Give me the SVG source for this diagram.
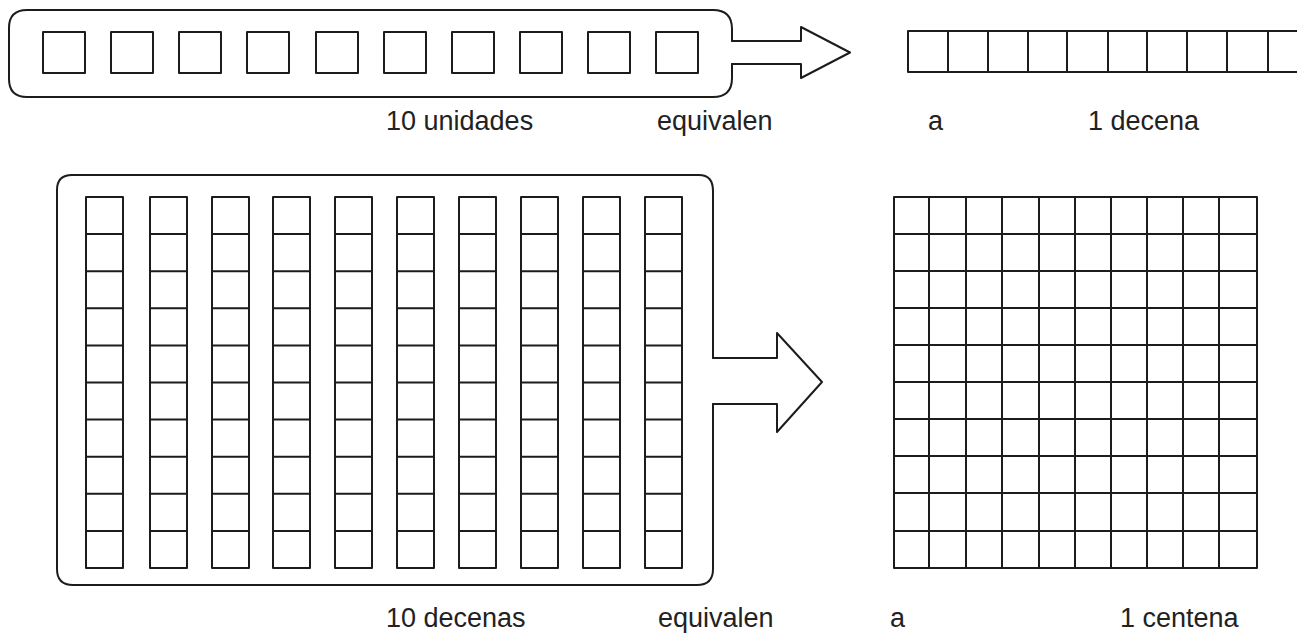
<svg xmlns="http://www.w3.org/2000/svg" xmlns:xlink="http://www.w3.org/1999/xlink" width="1297" height="635" viewBox="0 0 1297 635">
<style>
.ln{fill:none;stroke:#1c1c1c;stroke-width:2;stroke-linejoin:round;stroke-linecap:round}
.tx{font-family:"Liberation Sans",Arial,sans-serif;font-size:27px;fill:#222}
</style>
<defs>
<rect id="unit" class="ln" x="0" y="0" width="42" height="41"/>
<g id="col">
<rect class="ln" x="0" y="0" width="37" height="371"/>
<path class="ln" d="M0,37.1H37M0,74.2H37M0,111.3H37M0,148.4H37M0,185.5H37M0,222.6H37M0,259.7H37M0,296.8H37M0,333.9H37"/>
</g>
</defs>
<rect width="1297" height="635" fill="#fff"/>

<g id="units-group">
<path class="ln" d="M732,41 L732,29 Q732,10 713,10 L27,10 Q9,10 9,28 L9,79 Q9,97 27,97 L713,97 Q732,97 732,78 L732,64"/>
<use xlink:href="#unit" x="43" y="32"/>
<use xlink:href="#unit" x="111" y="32"/>
<use xlink:href="#unit" x="179" y="32"/>
<use xlink:href="#unit" x="247" y="32"/>
<use xlink:href="#unit" x="316" y="32"/>
<use xlink:href="#unit" x="384" y="32"/>
<use xlink:href="#unit" x="452" y="32"/>
<use xlink:href="#unit" x="520" y="32"/>
<use xlink:href="#unit" x="588" y="32"/>
<use xlink:href="#unit" x="656" y="32"/>
</g>

<g id="decena">
<rect class="ln" x="908" y="31" width="400" height="41"/>
<path class="ln" d="M948,31V72M988,31V72M1028,31V72M1067,31V72M1108,31V72M1147,31V72M1187,31V72M1227,31V72M1268,31V72"/>
</g>

<g id="decenas-group">
<path class="ln" d="M713,358 L713,191 Q713,175 699,175 L72,175 Q57,175 57,190 L57,569 Q57,585 73,585 L697,585 Q713,585 713,569 L713,404"/>
<use xlink:href="#col" x="86" y="197"/>
<use xlink:href="#col" x="150" y="197"/>
<use xlink:href="#col" x="212" y="197"/>
<use xlink:href="#col" x="273" y="197"/>
<use xlink:href="#col" x="335" y="197"/>
<use xlink:href="#col" x="397" y="197"/>
<use xlink:href="#col" x="459" y="197"/>
<use xlink:href="#col" x="521" y="197"/>
<use xlink:href="#col" x="583" y="197"/>
<use xlink:href="#col" x="645" y="197"/>
</g>

<g id="centena">
<rect class="ln" x="894" y="197" width="363" height="371"/>
<path class="ln" d="M929,197V568M966,197V568M1002,197V568M1039,197V568M1075,197V568M1111,197V568M1147,197V568M1183,197V568M1219,197V568"/>
<path class="ln" d="M894,234H1257M894,271H1257M894,308H1257M894,345H1257M894,382H1257M894,419H1257M894,456H1257M894,493H1257M894,531H1257"/>
</g>

<g id="connectors">
<path class="ln" d="M732,41 L801,41 L801,27 L850,52.5 L801,78 L801,64 L732,64"/>
<path class="ln" d="M713,358 L777,358 L777,333 L822,382 L777,432 L777,404 L713,404"/>
</g>

<g id="labels">
<text class="tx" x="386" y="130">10 unidades</text>
<text class="tx" x="657" y="130">equivalen</text>
<text class="tx" x="928" y="130">a</text>
<text class="tx" x="1088" y="130">1 decena</text>
<text class="tx" x="386" y="627">10 decenas</text>
<text class="tx" x="658" y="627">equivalen</text>
<text class="tx" x="890" y="627">a</text>
<text class="tx" x="1120" y="627">1 centena</text>
</g>
</svg>
